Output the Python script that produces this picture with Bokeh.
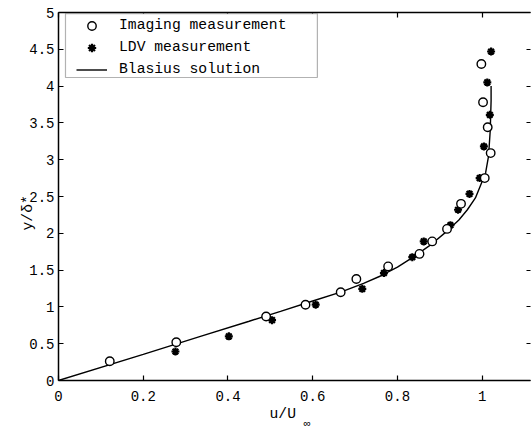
from bokeh.plotting import figure
from bokeh.models import (LinearAxis, Range1d, FixedTicker, NumeralTickFormatter,
                          CustomJSTickFormatter, Legend, LegendItem, BoxAnnotation, Title)
from bokeh.embed import file_html
from bokeh.resources import INLINE

# Imaging measurement (open circles)
img_x = [0.121, 0.278, 0.490, 0.583, 0.666, 0.703, 0.778, 0.852, 0.882, 0.917,
         0.950, 1.006, 1.020, 1.013, 1.002, 0.998]
img_y = [0.262, 0.520, 0.870, 1.030, 1.200, 1.380, 1.550, 1.720, 1.890, 2.060,
         2.400, 2.750, 3.090, 3.440, 3.780, 4.300]

# LDV measurement (asterisks)
ldv_x = [0.276, 0.402, 0.504, 0.607, 0.717, 0.768, 0.835, 0.862, 0.925, 0.943,
         0.970, 0.994, 1.004, 1.018, 1.012, 1.021]
ldv_y = [0.394, 0.600, 0.820, 1.030, 1.245, 1.460, 1.675, 1.890, 2.110, 2.320,
         2.535, 2.750, 3.180, 3.610, 4.050, 4.470]

# Blasius solution
bl_x = [0.0, 0.20, 0.335, 0.45, 0.524, 0.60, 0.666, 0.72, 0.76, 0.80, 0.838,
        0.88, 0.917, 0.945, 0.965, 0.984, 0.996, 1.008, 1.015, 1.019, 1.021, 1.021]
bl_y = [0.0, 0.355, 0.60, 0.805, 0.94, 1.08, 1.20, 1.32, 1.42, 1.54, 1.68,
        1.85, 2.03, 2.18, 2.32, 2.48, 2.65, 2.82, 3.05, 3.40, 3.80, 4.00]

x_ticks = [0, 0.2, 0.4, 0.6, 0.8, 1.0]
y_ticks = [0, 0.5, 1, 1.5, 2, 2.5, 3, 3.5, 4, 4.5, 5]

FONT = "Liberation Mono"

p = figure(width=531, height=432, x_range=Range1d(0, 1.114), y_range=Range1d(0, 5),
           output_backend="svg", toolbar_location=None,
           min_border_left=58, min_border_right=1, min_border_top=12, min_border_bottom=52,
           background_fill_color="white", border_fill_color="white")
p.outline_line_color = None
p.grid.visible = False

def style_axis(ax, ticks, labels=True, line=True, tick_in=5):
    ax.ticker = FixedTicker(ticks=ticks)
    ax.major_tick_in = tick_in
    ax.major_tick_out = 0
    ax.minor_tick_line_color = None
    ax.major_tick_line_color = "black"
    ax.major_tick_line_width = 1.2
    ax.axis_line_color = "black" if line else None
    ax.axis_line_width = 1.5
    ax.axis_label = None
    if labels:
        ax.formatter = NumeralTickFormatter(format="0.[0]")
        ax.major_label_text_font = FONT
        ax.major_label_text_font_size = "14px"
        ax.major_label_text_color = "black"
    else:
        ax.formatter = CustomJSTickFormatter(code="return ''")
        ax.major_label_standoff = 0

xa = p.xaxis[0]
style_axis(xa, x_ticks)
xa.major_label_standoff = 10

ya = p.yaxis[0]
style_axis(ya, y_ticks)
ya.major_label_standoff = 4

top = LinearAxis()
style_axis(top, x_ticks, labels=False)
p.add_layout(top, "above")
right = LinearAxis()
style_axis(right, y_ticks, labels=False, line=False, tick_in=4)
p.add_layout(right, "right")

def title(text, size, offset, standoff):
    return Title(text=text, align="left", offset=offset, standoff=standoff,
                 text_font=FONT, text_font_size=size, text_font_style="normal",
                 text_color="black")

# axis titles: u/U with subscript infinity, y/delta with superscript star
p.add_layout(title("u/U", "14.7px", 211, 0), "below")
p.add_layout(title("∞", "11px", 245, -12), "below")
p.add_layout(title("y/δ*", "14.7px", 150, -18), "left")

r_bl = p.line(bl_x, bl_y, line_color="black", line_width=1.4)
r_ldv = p.scatter(ldv_x, ldv_y, marker="asterisk", size=8, line_color="black", line_width=2.2)
r_img = p.scatter(img_x, img_y, marker="circle", size=8.5, fill_color="white",
                  line_color="black", line_width=1.4)

box = BoxAnnotation(left=0.0165, right=0.611, top=4.986, bottom=4.117,
                    fill_color="white", fill_alpha=1.0, line_color="black", line_width=1.2)
p.add_layout(box)

legend = Legend(items=[LegendItem(label="Imaging measurement", renderers=[r_img]),
                       LegendItem(label="LDV measurement", renderers=[r_ldv]),
                       LegendItem(label="Blasius solution", renderers=[r_bl])],
                location=(18, 300.5), padding=0, spacing=1, margin=0,
                glyph_width=31, glyph_height=21, label_height=21, label_standoff=12,
                border_line_color=None, background_fill_alpha=0,
                label_text_font=FONT, label_text_font_size="14.7px", label_text_color="black")
p.add_layout(legend)

open("out.html", "w").write(file_html(p, INLINE))
